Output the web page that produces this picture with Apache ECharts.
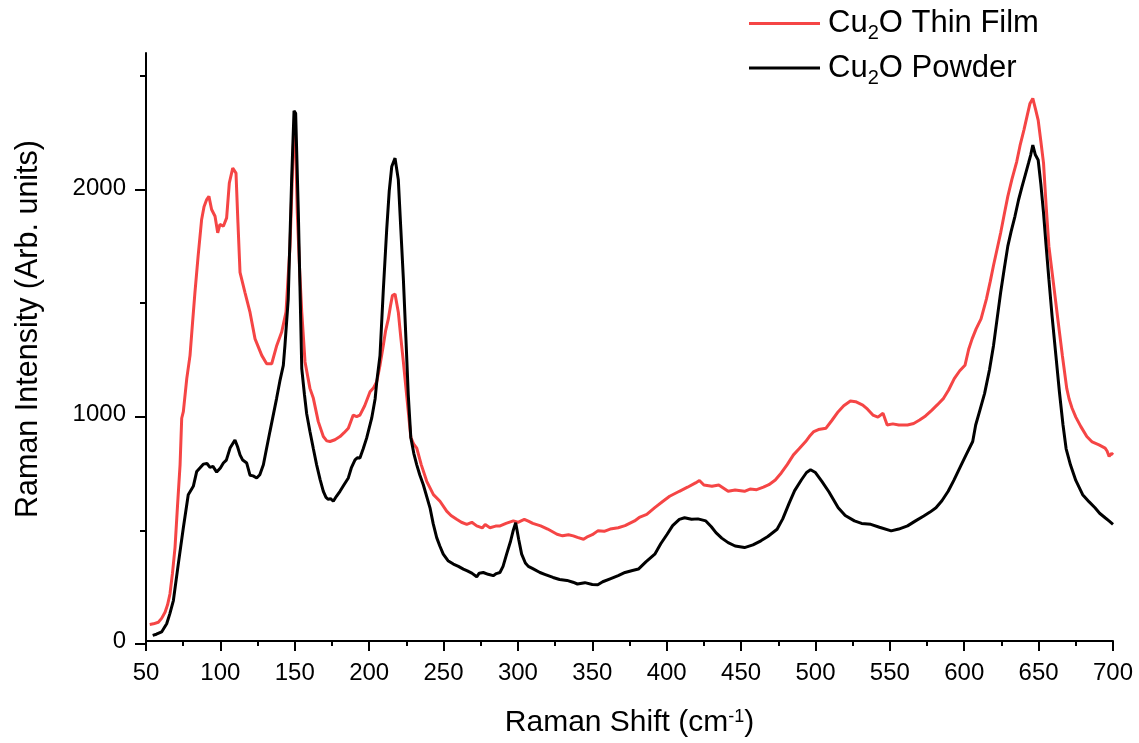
<!DOCTYPE html>
<html>
<head>
<meta charset="utf-8">
<script src="https://cdn.jsdelivr.net/npm/echarts@6/dist/echarts.min.js"></script>
<style>
html,body{margin:0;padding:0;background:#fff;}
#chart{width:1139px;height:743px;}
</style>
</head>
<body>
<div id="chart"></div>
<script>
// ---- Data ----
const xTickValues = [50,100,150,200,250,300,350,400,450,500,550,600,650,700];
const yTickValues = [0,1000,2000];
const yMinorTickValues = [500,1500,2500];

const seriesNames = ['Cu2O Thin Film', 'Cu2O Powder'];

const filmShift = [52.5,55,58.3,60.5,62.8,64.5,66.1,67.8,69.5,71.2,72.9,74,75.1,77.4,79.6,81.2,82.9,85,87.4,89,90.8,92.3,94.1,96.4,98.2,99.7,102,104.2,106,108.3,110.5,111.8,113.2,116.5,119.9,123.3,127.8,131.1,134.5,137.9,141.2,144.1,146.8,149,150.2,151.7,153.2,154.7,156.9,160.2,162.5,165.8,169.2,171.5,173.7,177,180.4,183,186,189.3,191.6,193.8,197,200.6,203,205.1,207.3,209.5,211,212.9,214.3,215.6,217.4,219.6,221.3,223,224.7,226.3,228,230,232,235,238.7,243.2,247.6,252.1,255,258.8,262,265.6,269,272.3,276,278,281.2,285,288,292,296.9,300,304.3,307,310,315.3,320,326.3,330,334,337.2,340,344.1,347,350,353.7,358,362,367.4,372,378.4,382,386.6,392,397.5,402,408.5,414,419.4,422,425,430.4,435,441.3,446,452.3,456,460.5,465,468.7,473,477,481,485.2,489,493.4,496,498.9,502,507.1,511,515.3,519,523.5,527,531.8,535,538.6,542,545.4,548.2,552,556,561.9,566,570,574,578.3,582,586.1,589.5,593.3,597,600.5,603,605.3,608,611.3,614.9,617.5,619.6,622,624.5,627,629.3,632,635.3,637.5,640.1,642.2,644.2,646.1,648,649.7,651.5,653.3,655,656.9,660,662.9,666,668.9,670.5,672.5,675,678.4,682.4,686,690.6,694.7,696,697.4,699,700];
const filmIntensity = [73,76,83,100,127,160,208,300,413,600,779,985,1014,1160,1263,1400,1542,1700,1864,1920,1952,1966,1908,1878,1805,1842,1834,1871,2025,2091,2069,1850,1630,1542,1454,1336,1263,1226,1226,1307,1366,1454,1746,2186,2303,1893,1650,1454,1234,1117,1073,970,904,885,882,890,904,920,941,999,992,999,1040,1102,1120,1146,1220,1307,1370,1424,1480,1527,1534,1454,1340,1234,1120,1014,900,870,853,780,706,647,618,574,555,538,525,516,525,509,500,515,501,508,509,520,531,525,538,530,520,509,495,472,465,470,465,458,450,462,470,487,485,495,501,510,531,548,560,590,618,640,662,680,699,710,690,684,690,662,668,662,672,669,680,691,712,743,780,823,850,882,905,926,935,941,975,1014,1040,1061,1058,1043,1025,999,990,1007,955,960,955,955,962,977,995,1021,1045,1073,1110,1160,1195,1219,1290,1336,1380,1424,1512,1590,1658,1730,1805,1890,1966,2040,2120,2190,2259,2320,2377,2399,2350,2303,2210,2113,1930,1746,1580,1424,1260,1117,1070,1029,990,948,904,880,867,853,840,816,830,823];

const powderShift = [54.5,57,60.5,63.9,66,68.4,71.7,75.1,78.4,81.8,84.1,88.5,91,93,95,97.5,100,102,104,106.5,109.8,111.5,113.2,115,117.7,119.9,122,124.4,126.5,128.9,131,133.3,137.8,140,142.3,143.4,145.6,147.9,149.5,150.6,152.4,154.7,156.5,158,160.2,162.5,164.7,167,169.2,171,172.5,174,175.9,178,180.4,183,186,188,190.5,192,193.8,196,198.3,201.7,204,205.1,207.3,209.5,211.8,213.5,215.2,217.4,219.6,221.3,223,224.7,226.3,228,230,232,234,236.4,240.9,243,245.4,247.5,249.8,253,256.6,260,263.3,266,269,272.3,274,276.7,280,283.4,285.5,287.9,290,292.4,295,296.9,298.5,300.5,302.5,305,307,310,314.8,318,323.6,328,333,337,340,345,350,353.7,357,362,367.4,372,377,381,386,392,396,400.3,404,408.5,412,416.7,421,426.3,430,433.1,437,441.3,446,452.3,458,463.3,468,474.2,478,482.4,486,490.6,494,496.7,500,504.3,509,515.3,520,526.2,531,537.2,543,550.9,556,561.9,567,572.8,577,581,585,589.2,593,597.5,601,605.7,607.7,610.5,613.7,617,619.7,622,624.5,627,629.3,631.5,634.1,636.5,638.9,641,643.2,644.7,646.1,647.8,649.7,651.5,653.3,655,656.9,659,661.6,664,666.4,668.5,671.4,675,679.6,684,687.9,691,694.7,697.5,700];
const powderIntensity = [25,30,40,76,120,179,340,501,647,684,750,782,785,768,772,747,765,787,800,853,889,860,823,800,787,733,730,721,735,779,850,926,1073,1150,1219,1307,1512,2040,2344,2333,1893,1204,1090,1005,926,850,779,715,662,635,626,630,618,640,662,690,721,765,801,810,809,850,897,985,1070,1146,1263,1550,1820,1990,2098,2135,2040,1820,1600,1340,1087,900,830,779,735,691,589,520,457,420,384,355,340,330,318,310,300,284,300,303,295,289,298,303,330,384,440,490,523,450,384,345,330,320,303,295,281,272,268,260,252,258,250,249,262,275,289,303,312,318,350,384,430,472,510,538,545,538,540,531,505,479,455,435,420,413,425,443,462,494,540,611,665,713,745,757,745,706,660,589,555,531,520,516,503,487,495,509,530,553,570,589,620,662,710,772,820,882,955,1020,1095,1200,1307,1420,1542,1650,1746,1810,1878,1950,2010,2060,2113,2150,2193,2150,2127,2020,1893,1750,1600,1440,1263,1100,955,850,779,710,647,615,589,565,545,530,516];

// ---- Layout constants ----
const FONT = "'Liberation Sans', Arial, sans-serif";
const RED = '#f54545';
const X_MIN = 50, X_MAX = 700, Y_MAX = 2600;
const G_LEFT = 146, G_RIGHT = 26, G_TOP = 53, G_BOTTOM = 99, H = 743;
const plotH = H - G_TOP - G_BOTTOM;
const pxPerUnit = plotH / Y_MAX;
const yMajMin = yTickValues[0], yMajMax = yTickValues[yTickValues.length - 1];
const yMinMin = yMinorTickValues[0], yMinMax = yMinorTickValues[yMinorTickValues.length - 1];
const EPS = 0.001; // keeps the tick helper axis from starting exactly at zero

const chart = echarts.init(document.getElementById('chart'), null, {renderer: 'canvas'});

function legendLabel(name) {
  const m = name.match(/^(Cu)(2)(O.*)$/);
  return '{n|' + m[1] + '}{s|' + m[2] + '}{n|' + m[3] + '}';
}

const hiddenX = gi => ({type: 'value', gridIndex: gi, min: X_MIN, max: X_MAX, show: false});

const option = {
  animation: false,
  backgroundColor: '#ffffff',
  grid: [
    {left: G_LEFT, right: G_RIGHT, top: G_TOP, bottom: G_BOTTOM},
    {left: G_LEFT, right: G_RIGHT, top: G_TOP + (Y_MAX - yMajMax) * pxPerUnit, bottom: G_BOTTOM + yMajMin * pxPerUnit},
    {left: G_LEFT, right: G_RIGHT, top: G_TOP + (Y_MAX - yMinMax) * pxPerUnit, bottom: G_BOTTOM + yMinMin * pxPerUnit}
  ],
  legend: {
    orient: 'vertical',
    left: 749,
    top: 8,
    padding: 0,
    itemWidth: 71,
    itemHeight: 14,
    itemGap: 9,
    icon: 'path://M0,0L71,0L71,3L0,3Z',
    data: seriesNames,
    formatter: legendLabel,
    textStyle: {
      color: '#000',
      fontFamily: FONT,
      padding: [0, 0, 0, 3],
      rich: {
        n: {fontSize: 31, lineHeight: 30, fontFamily: FONT, color: '#000'},
        s: {fontSize: 20, height: 10, lineHeight: 10, verticalAlign: 'bottom', fontFamily: FONT, color: '#000'}
      }
    }
  },
  xAxis: [{
    type: 'value',
    gridIndex: 0,
    min: X_MIN, max: X_MAX, interval: 50,
    name: '{n|Raman Shift (cm}{p|-1}{n|)}',
    nameLocation: 'middle',
    nameGap: 67,
    nameTextStyle: {
      fontFamily: FONT, color: '#000',
      rich: {
        n: {fontSize: 30, lineHeight: 30, fontFamily: FONT, color: '#000'},
        p: {fontSize: 18, lineHeight: 21, verticalAlign: 'top', fontFamily: FONT, color: '#000'}
      }
    },
    axisLine: {show: true, onZero: false, lineStyle: {color: '#000', width: 2}},
    axisTick: {show: true, length: 10, lineStyle: {color: '#000', width: 2}},
    minorTick: {show: true, splitNumber: 2, length: 5, lineStyle: {color: '#000', width: 2}},
    axisLabel: {margin: 20, fontSize: 24, color: '#000', fontFamily: FONT, formatter: v => String(v)},
    splitLine: {show: false},
    minorSplitLine: {show: false}
  }, hiddenX(1), hiddenX(2)],
  yAxis: [{
    type: 'value',
    gridIndex: 0,
    min: 0, max: Y_MAX,
    name: 'Raman Intensity (Arb. units)',
    nameLocation: 'middle',
    nameGap: 102,
    nameRotate: 90,
    nameTextStyle: {fontFamily: FONT, fontSize: 30.5, color: '#000', padding: [0, 0, 0, 36]},
    axisLine: {show: true, onZero: false, lineStyle: {color: '#000', width: 2}},
    axisTick: {show: false},
    axisLabel: {margin: 20, fontSize: 24, color: '#000', fontFamily: FONT,
      customValues: yTickValues, formatter: v => String(v)},
    splitLine: {show: false}
  }, {
    type: 'value',
    gridIndex: 1,
    min: yMajMin + EPS, max: yMajMax + EPS, interval: yTickValues[1] - yTickValues[0],
    axisLine: {show: false, onZero: false},
    axisTick: {show: true, length: 11, lineStyle: {color: '#000', width: 2}},
    axisLabel: {show: false},
    splitLine: {show: false}
  }, {
    type: 'value',
    gridIndex: 2,
    min: yMinMin, max: yMinMax, interval: yMinorTickValues[1] - yMinorTickValues[0],
    axisLine: {show: false, onZero: false},
    axisTick: {show: true, length: 6, lineStyle: {color: '#000', width: 2}},
    axisLabel: {show: false},
    splitLine: {show: false}
  }],
  series: [{
    name: seriesNames[0],
    type: 'line',
    xAxisIndex: 0, yAxisIndex: 0,
    data: filmShift.map((x, i) => [x, filmIntensity[i]]),
    showSymbol: false, symbol: 'none',
    lineStyle: {color: RED, width: 3},
    itemStyle: {color: RED},
    z: 2
  }, {
    name: seriesNames[1],
    type: 'line',
    xAxisIndex: 0, yAxisIndex: 0,
    data: powderShift.map((x, i) => [x, powderIntensity[i]]),
    showSymbol: false, symbol: 'none',
    lineStyle: {color: '#000000', width: 3},
    itemStyle: {color: '#000000'},
    z: 3
  }]
};
chart.setOption(option);
</script>
</body>
</html>
